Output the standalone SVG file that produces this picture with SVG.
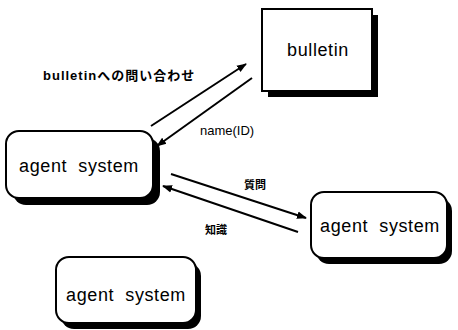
<svg xmlns="http://www.w3.org/2000/svg" width="458" height="330" viewBox="0 0 458 330">
  <defs>
    <marker id="head" viewBox="0 0 10 10" refX="9" refY="5" markerWidth="5" markerHeight="5" orient="auto" markerUnits="strokeWidth">
      <path d="M0,1.2 L10,5 L0,8.8 Z" fill="#000"/>
    </marker>
    <style>
      .shadow { fill: #000; }
      .box { fill: #fff; stroke: #000; stroke-width: 2; }
      .name { font-family: "Liberation Sans", Arial, sans-serif; font-size: 18px; fill: #000; text-anchor: middle; letter-spacing: 0.6px; white-space: pre; }
      .label { font-family: "Liberation Sans", "Noto Sans CJK JP", sans-serif; font-size: 13px; fill: #000; }
      .jp { font-family: "Noto Sans CJK JP", sans-serif; font-weight: bold; font-size: 11px; fill: #000; }
      .link { fill: none; stroke: #000; stroke-width: 2; marker-end: url(#head); }
    </style>
  </defs>
  <rect width="458" height="330" fill="#fff"/>

  <!-- bulletin board -->
  <g id="bulletin">
    <rect class="shadow" x="268" y="15" width="110" height="82"/>
    <rect class="box" x="262" y="9" width="110" height="82"/>
    <text class="name" x="318" y="56">bulletin</text>
  </g>

  <!-- agent systems -->
  <g id="agent1">
    <rect class="shadow" x="13" y="138" width="147" height="67" rx="13"/>
    <rect class="box" x="6" y="131" width="147" height="67" rx="13"/>
    <text class="name" x="79" y="172">agent  system</text>
  </g>

  <g id="agent2">
    <rect class="shadow" x="316" y="198" width="136" height="66" rx="13"/>
    <rect class="box" x="311" y="192" width="136" height="66" rx="13"/>
    <text class="name" x="380" y="232">agent  system</text>
  </g>

  <g id="agent3">
    <rect class="shadow" x="61" y="263" width="140" height="66" rx="13"/>
    <rect class="box" x="56" y="257" width="140" height="66" rx="13"/>
    <text class="name" x="126" y="301">agent  system</text>
  </g>

  <!-- message flows -->
  <g id="connectors">
    <line class="link" x1="151" y1="126" x2="246" y2="64"/>
    <line class="link" x1="252" y1="78" x2="157" y2="146"/>
    <line class="link" x1="171" y1="174" x2="306" y2="218"/>
    <line class="link" x1="298" y1="232" x2="163" y2="186"/>
    <text class="label" x="43" y="80" font-weight="bold" letter-spacing="1">bulletinへの問い合わせ</text>
    <text class="label" x="200" y="135">name(ID)</text>
    <text class="jp" x="244" y="189">質問</text>
    <text class="jp" x="205" y="234">知識</text>
  </g>
</svg>
